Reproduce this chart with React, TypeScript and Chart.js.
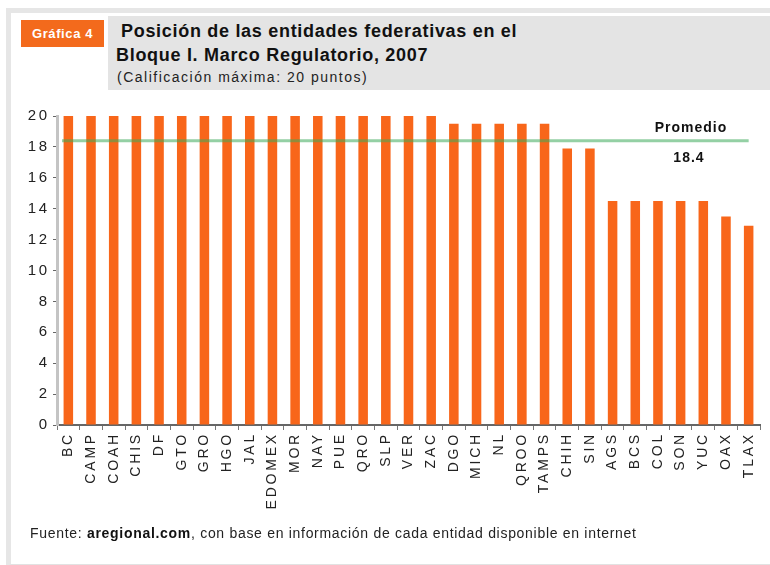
import React, { useEffect, useRef } from 'react';
import { Chart, registerables } from 'chart.js';

Chart.register(...registerables);

const categories = [
  'BC', 'CAMP', 'COAH', 'CHIS', 'DF', 'GTO', 'GRO', 'HGO', 'JAL', 'EDOMEX',
  'MOR', 'NAY', 'PUE', 'QRO', 'SLP', 'VER', 'ZAC', 'DGO', 'MICH', 'NL',
  'QROO', 'TAMPS', 'CHIH', 'SIN', 'AGS', 'BCS', 'COL', 'SON', 'YUC', 'OAX', 'TLAX',
];
const scores = [
  20, 20, 20, 20, 20, 20, 20, 20, 20, 20,
  20, 20, 20, 20, 20, 20, 20, 19.5, 19.5, 19.5,
  19.5, 19.5, 17.9, 17.9, 14.5, 14.5, 14.5, 14.5, 14.5, 13.5, 12.9,
];
const average = 18.4;
const averageLabel = 'Promedio';
const yMax = 20;
const yStep = 2;

const FONT = '"Liberation Sans", Arial, Helvetica, sans-serif';

const spacingPlugin = {
  id: 'spacing',
  beforeDraw(chart: any) {
    chart.ctx.letterSpacing = '2.8px';
  },
  afterDraw(chart: any) {
    chart.ctx.letterSpacing = '0px';
  },
};

const averagePlugin = {
  id: 'averageLine',
  afterDatasetsDraw(chart: any) {
    const { ctx, chartArea, scales } = chart;
    const x = scales.x;
    const y = scales.y;
    const py = y.getPixelForValue(average);
    ctx.save();
    ctx.strokeStyle = 'rgba(60,170,90,0.55)';
    ctx.lineWidth = 3;
    ctx.beginPath();
    ctx.moveTo(chartArea.left + 5, py);
    ctx.lineTo(x.getPixelForValue(categories.length - 1), py);
    ctx.stroke();
    const cx = (x.getPixelForValue(27) + x.getPixelForValue(28)) / 2;
    ctx.letterSpacing = '1px';
    ctx.font = `bold 14px ${FONT}`;
    ctx.fillStyle = '#111';
    ctx.textAlign = 'center';
    ctx.textBaseline = 'middle';
    ctx.fillText(averageLabel, cx - 1, py - 13);
    ctx.fillText(average.toFixed(1), cx - 3, py + 17);
    ctx.restore();
  },
};

function BarChart() {
  const ref = useRef<HTMLCanvasElement>(null);
  useEffect(() => {
    if (!ref.current) return;
    const chart = new Chart(ref.current, {
      type: 'bar',
      data: {
        labels: categories,
        datasets: [
          {
            data: scores,
            backgroundColor: '#f8661a',
            borderWidth: 0,
            barPercentage: 0.42,
            categoryPercentage: 1,
          },
        ],
      },
      options: {
        animation: false,
        responsive: false,
        maintainAspectRatio: false,
        layout: { padding: { top: 116, right: 10, bottom: 40, left: 0 } },
        plugins: {
          legend: { display: false },
          tooltip: { enabled: false },
          title: { display: false },
        },
        scales: {
          x: {
            afterFit: (s: any) => {
              s.height = 100;
            },
            grid: {
              display: true,
              drawOnChartArea: false,
              drawTicks: true,
              tickLength: 5,
              offset: true,
              color: '#777',
            },
            border: { display: true, color: '#666', width: 2 },
            ticks: {
              autoSkip: false,
              minRotation: 90,
              maxRotation: 90,
              padding: 2,
              color: '#222',
              font: { family: FONT, size: 14 },
            },
          },
          y: {
            min: 0,
            max: yMax,
            afterFit: (s: any) => {
              s.width = 57;
            },
            grid: {
              display: true,
              drawOnChartArea: false,
              drawTicks: true,
              tickLength: 4,
              color: '#666',
            },
            border: { display: true, color: '#c4c4c4', width: 3 },
            ticks: {
              stepSize: yStep,
              padding: 3,
              color: '#222',
              font: { family: FONT, size: 15 },
            },
          },
        },
      },
      plugins: [spacingPlugin, averagePlugin],
    });
    return () => chart.destroy();
  }, []);
  return (
    <canvas
      ref={ref}
      width={770}
      height={565}
      style={{ position: 'absolute', left: 0, top: 0, width: 770, height: 565 }}
    />
  );
}

export default function App() {
  return (
    <div
      style={{
        position: 'absolute',
        left: 0,
        top: 0,
        width: 770,
        height: 565,
        overflow: 'hidden',
        background: '#fff',
        fontFamily: FONT,
      }}
    >
      <div
        style={{
          position: 'absolute',
          left: 6,
          top: 8,
          width: 800,
          height: 551,
          borderTop: '5px solid #e6e6e6',
          borderLeft: '5px solid #e6e6e6',
          borderBottom: '3px solid #e2e2e2',
          background: '#fff',
        }}
      />
      <div
        style={{
          position: 'absolute',
          left: 21,
          top: 20,
          width: 83,
          height: 27,
          background: '#f36a1c',
          color: '#fff',
          fontWeight: 'bold',
          fontSize: 13,
          letterSpacing: 0.6,
          lineHeight: '27px',
          textAlign: 'center',
        }}
      >
        Gráfica 4
      </div>
      <div
        style={{
          position: 'absolute',
          left: 108,
          top: 16,
          width: 662,
          height: 74,
          background: '#e4e4e4',
        }}
      />
      <div
        style={{
          position: 'absolute',
          left: 121,
          top: 21,
          fontSize: 18,
          fontWeight: 'bold',
          letterSpacing: 0.7,
          color: '#111',
          whiteSpace: 'nowrap',
          lineHeight: '20px',
        }}
      >
        Posición de las entidades federativas en el
      </div>
      <div
        style={{
          position: 'absolute',
          left: 116,
          top: 45,
          fontSize: 18,
          fontWeight: 'bold',
          letterSpacing: 0.7,
          color: '#111',
          whiteSpace: 'nowrap',
          lineHeight: '20px',
        }}
      >
        Bloque I. Marco Regulatorio, 2007
      </div>
      <div
        style={{
          position: 'absolute',
          left: 117,
          top: 68,
          fontSize: 14,
          letterSpacing: 1.5,
          color: '#222',
          whiteSpace: 'nowrap',
          lineHeight: '18px',
        }}
      >
        (Calificación máxima: 20 puntos)
      </div>
      <BarChart />
      <div
        style={{
          position: 'absolute',
          left: 30,
          top: 524,
          fontSize: 14,
          letterSpacing: 0.7,
          color: '#222',
          whiteSpace: 'nowrap',
          lineHeight: '18px',
        }}
      >
        Fuente: <b style={{ color: '#111' }}>aregional.com</b>, con base en información de cada entidad disponible en internet
      </div>
    </div>
  );
}
